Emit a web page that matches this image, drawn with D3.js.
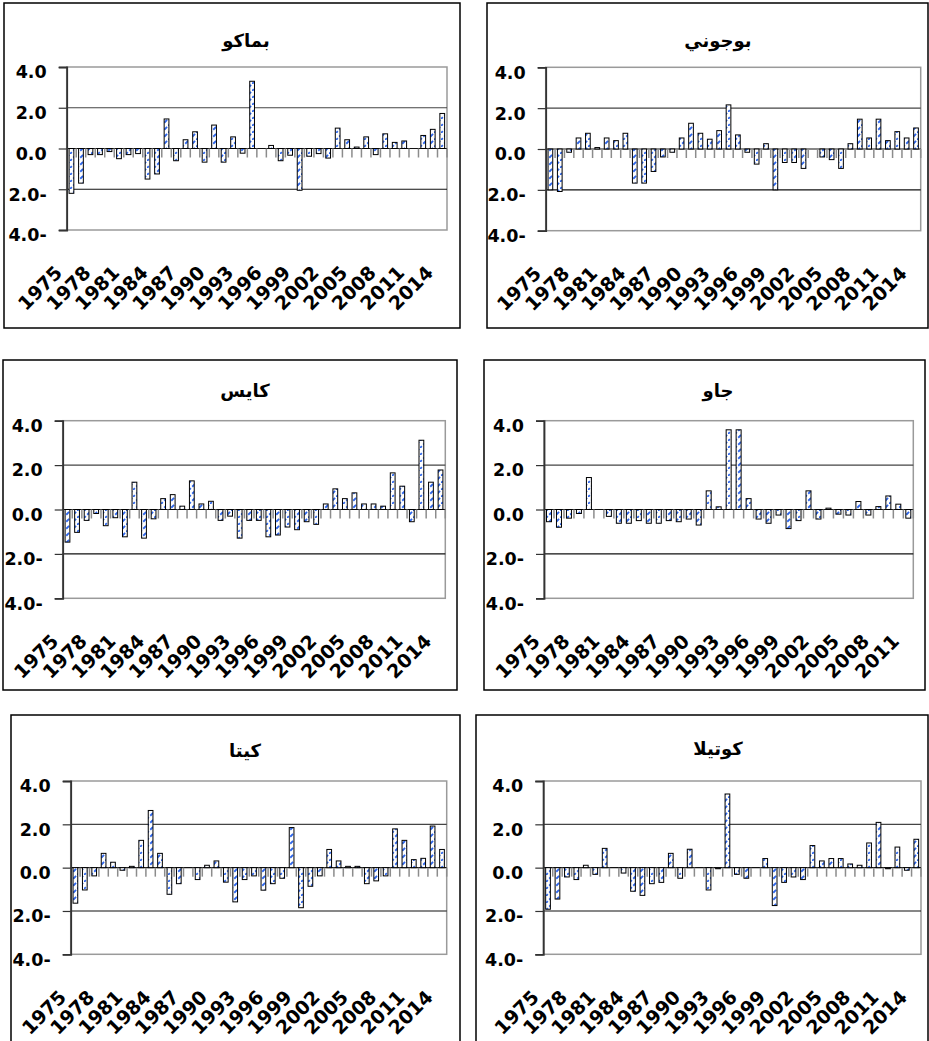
<!DOCTYPE html>
<html>
<head>
<meta charset="utf-8">
<script src="https://cdn.jsdelivr.net/npm/d3@7"></script>
<style>
  body { margin: 0; background: #fff; }
  svg { display: block; }
  .num { font-family: "DejaVu Sans", "Liberation Sans", sans-serif; font-weight: bold; font-size: 17.5px; fill: #000; }
  .cat { font-family: "DejaVu Sans", "Liberation Sans", sans-serif; font-weight: bold; font-size: 19px; fill: #000; }
  .ttl { font-family: "DejaVu Sans", "Liberation Sans", sans-serif; font-weight: bold; font-size: 18px; fill: #000; }
</style>
</head>
<body>
<div id="chart"></div>
<script>
// categories
const years = [1975,1976,1977,1978,1979,1980,1981,1982,1983,1984,
  1985,1986,1987,1988,1989,1990,1991,1992,1993,1994,
  1995,1996,1997,1998,1999,2000,2001,2002,2003,2004,
  2005,2006,2007,2008,2009,2010,2011,2012,2013,2014];
const yearsGao = years.slice(0, 37); // jao panel stops at 2011

// series
const bamako = [-2.2,-1.7,-0.3,-0.3,-0.15,-0.5,-0.3,-0.25,-1.5,-1.25,
  1.45,-0.6,0.43,0.82,-0.67,1.15,-0.67,0.57,-0.23,3.3,
  0,0.15,-0.6,-0.33,-2.05,-0.38,-0.25,-0.47,1.0,0.43,
  0.07,0.57,-0.3,0.72,0.3,0.37,0,0.64,0.94,1.72];
const bougouni = [-2.0,-2.08,-0.16,0.54,0.77,0.07,0.54,0.41,0.77,-1.67,
  -1.67,-1.1,-0.39,-0.16,0.54,1.26,0.77,0.48,0.9,2.16,
  0.69,-0.16,-0.74,0.26,-2.0,-0.66,-0.66,-0.95,0,-0.39,
  -0.52,-0.95,0.26,1.46,0.54,1.46,0.41,0.85,0.54,1.03];
const kayes = [-1.47,-1.03,-0.49,-0.18,-0.73,-0.37,-1.23,1.23,-1.29,-0.42,
  0.49,0.67,0.15,1.29,0.25,0.37,-0.49,-0.3,-1.29,-0.49,
  -0.49,-1.23,-1.15,-0.79,-0.91,-0.55,-0.67,0.25,0.93,0.49,
  0.75,0.25,0.25,0.15,1.65,1.05,-0.55,3.12,1.23,1.78];
const gao = [-0.55,-0.8,-0.39,-0.18,1.44,0,-0.31,-0.62,-0.62,-0.5,
  -0.62,-0.62,-0.5,-0.55,-0.43,-0.7,0.84,0.12,3.59,3.59,
  0.49,-0.43,-0.62,-0.25,-0.86,-0.5,0.84,-0.43,0.06,-0.21,
  -0.25,0.36,-0.25,0.13,0.61,0.24,-0.39];
const kita = [-1.64,-1.03,-0.38,0.66,0.25,-0.12,0.06,1.26,2.64,0.66,
  -1.23,-0.74,0,-0.55,0.11,0.31,-0.67,-1.58,-0.55,-0.38,
  -1.04,-0.74,-0.49,1.85,-1.85,-0.86,-0.38,0.84,0.31,0.06,
  0.06,-0.74,-0.61,-0.38,1.79,1.26,0.37,0.43,1.92,0.84];
const koutiala = [-1.92,-1.45,-0.43,-0.55,0.11,-0.31,0.89,0,-0.25,-1.09,
  -1.28,-0.74,-0.68,0.66,-0.49,0.85,0,-1.03,-0.05,3.4,
  -0.31,-0.49,0,0.42,-1.75,-0.68,-0.43,-0.55,1.02,0.31,
  0.42,0.42,0.17,0.11,1.14,2.09,-0.05,0.95,-0.12,1.31];

// y axis ticks
const yTicks = [4, 2, 0, -2, -4];

// layout: frame box, plot area, title position
const panels = [
  {title: "بماكو", cats: years, vals: bamako,
   frame: [4, 3, 456, 325], plot: [66.7, 67, 447, 230], tx: 246, ty: 47},
  {title: "بوجوني", cats: years, vals: bougouni,
   frame: [487, 3, 441, 325], plot: [545.7, 67.3, 920.7, 230.7], tx: 718, ty: 47},
  {title: "كايس", cats: years, vals: kayes,
   frame: [3, 360, 454, 330], plot: [62.7, 420.7, 445.3, 598.3], tx: 245, ty: 397},
  {title: "جاو", cats: yearsGao, vals: gao,
   frame: [484, 360, 441, 330], plot: [544, 420.7, 913.3, 598.3], tx: 718, ty: 397},
  {title: "كيتا", cats: years, vals: kita,
   frame: [11, 715, 449, 340], plot: [70.7, 781, 446.7, 954.3], tx: 245, ty: 757},
  {title: "كوتيلا", cats: years, vals: koutiala,
   frame: [476, 715, 452, 340], plot: [543.3, 781, 921, 954.3], tx: 718, ty: 755}
];

const W = 929, H = 1041;
const svg = d3.select("#chart").append("svg")
  .attr("width", W).attr("height", H);

// hatch pattern for the bars
const defs = svg.append("defs");
const pat = defs.append("pattern")
  .attr("id", "hatch")
  .attr("patternUnits", "userSpaceOnUse")
  .attr("width", 7).attr("height", 7);
pat.append("rect").attr("width", 7).attr("height", 7).attr("fill", "#fff");
pat.append("path")
  .attr("d", "M-1,8 L8,-1")
  .attr("stroke", "#2e66ea")
  .attr("stroke-width", 1.8)
  .attr("stroke-dasharray", "4,2");

const fmt = v => v < 0 ? Math.abs(v).toFixed(1) + "-" : v.toFixed(1);

panels.forEach(p => {
  const [fx, fy, fw, fh] = p.frame;
  const [x0, y0, x1, y1] = p.plot;

  // outer frame
  svg.append("rect")
    .attr("x", fx).attr("y", fy).attr("width", fw).attr("height", fh)
    .attr("fill", "none").attr("stroke", "#000").attr("stroke-width", 1.5);

  svg.append("text").attr("class", "ttl")
    .attr("x", p.tx).attr("y", p.ty)
    .attr("text-anchor", "middle")
    .text(p.title);

  const x = d3.scaleBand().domain(p.cats).range([x0, x1]).padding(0);
  const y = d3.scaleLinear().domain([-4, 4]).range([y1, y0]);

  const g = svg.append("g");

  // plot area border
  g.append("rect")
    .attr("x", x0).attr("y", y0).attr("width", x1 - x0).attr("height", y1 - y0)
    .attr("fill", "none").attr("stroke", "#9a9a9a").attr("stroke-width", 1.5);

  // grid lines
  g.append("g").selectAll("line")
    .data([2, 0, -2])
    .join("line")
    .attr("x1", x0).attr("x2", x1)
    .attr("y1", d => y(d)).attr("y2", d => y(d))
    .attr("stroke", d => d === 2 ? "#444" : "#111")
    .attr("stroke-width", 1.2);

  // category tick marks under the zero line
  const bounds = p.cats.slice(1).map(c => x(c));
  bounds.push(x1);
  g.append("g").selectAll("line")
    .data(bounds)
    .join("line")
    .attr("x1", d => d).attr("x2", d => d)
    .attr("y1", y(0)).attr("y2", y(0) + 9)
    .attr("stroke", "#8c8c8c")
    .attr("stroke-width", 1.5);

  // bars
  const bw = x.bandwidth() * 0.5;
  g.append("g").selectAll("rect")
    .data(p.vals.map((v, i) => ({c: p.cats[i], v: v})).filter(d => d.v !== 0))
    .join("rect")
    .attr("x", d => x(d.c) + (x.bandwidth() - bw) / 2)
    .attr("y", d => y(Math.max(0, d.v)))
    .attr("width", bw)
    .attr("height", d => Math.abs(y(d.v) - y(0)))
    .attr("fill", "url(#hatch)")
    .attr("stroke", "#000")
    .attr("stroke-width", 1);

  // y axis
  const ya = g.append("g")
    .attr("transform", "translate(" + x0 + ",0)")
    .call(d3.axisLeft(y).tickValues(yTicks).tickFormat(fmt).tickSize(8).tickPadding(12));
  ya.select(".domain").attr("stroke", "#333").attr("stroke-width", 1.8);
  ya.selectAll(".tick line").attr("stroke", "#333").attr("stroke-width", 1.2);
  ya.selectAll(".tick text")
    .attr("class", "num")
    .attr("font-family", null).attr("font-size", null)
    .attr("dy", "0.62em");

  // x labels, every third year
  const labelCats = p.cats.filter((c, i) => i % 3 === 0);
  const xa = g.append("g")
    .attr("transform", "translate(0," + (y1 + 44) + ")")
    .call(d3.axisBottom(x).tickValues(labelCats).tickSize(0).tickPadding(0));
  xa.select(".domain").remove();
  xa.selectAll(".tick text")
    .attr("class", "cat")
    .attr("font-family", null).attr("font-size", null)
    .attr("y", 0).attr("dy", 0)
    .attr("x", -8)
    .attr("text-anchor", "end")
    .attr("transform", "rotate(-45,-8,0)");
});
</script>
</body>
</html>
